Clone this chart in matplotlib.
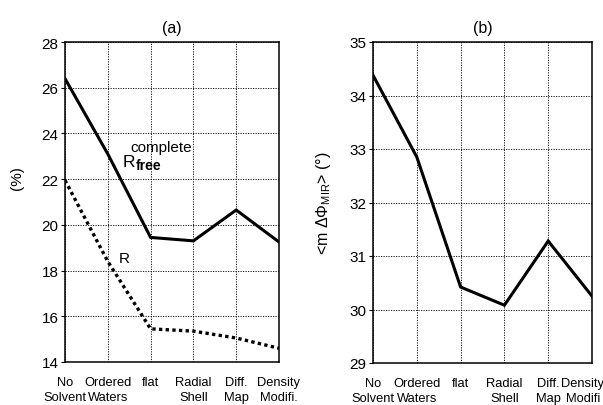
import matplotlib
matplotlib.use("Agg")
import matplotlib.pyplot as plt
from matplotlib.transforms import ScaledTranslation

plt.rcParams['font.family'] = ['Liberation Sans', 'DejaVu Sans']
plt.rcParams['mathtext.default'] = 'regular'

methods = ["No\nSolvent", "Ordered\nWaters", "flat", "Radial\nShell", "Diff.\nMap", "Density\nModifi."]
methods_b = ["No\nSolvent", "Ordered\nWaters", "flat", "Radial\nShell", "Diff.\nMap", "Density\nModifi"]
r_free = [26.4, 23.1, 19.45, 19.3, 20.65, 19.25]
r_work = [21.95, 18.4, 15.45, 15.35, 15.05, 14.6]
phase_err = [34.38, 32.85, 30.42, 30.08, 31.28, 30.25]

fig = plt.figure(figsize=(6.03, 4.06), dpi=100)
ax1 = fig.add_axes([65/603, 1 - 363/406, 214/603, 320/406])
ax2 = fig.add_axes([373/603, 1 - 364/406, 219/603, 321/406])

x = list(range(len(methods)))

def style(ax, labels):
    ax.set_xlim(0, len(labels) - 1)
    ax.set_xticks(x)
    ax.set_xticklabels(labels, fontsize=9.3, linespacing=1.3)
    ax.tick_params(axis='x', length=0, pad=10)
    ax.tick_params(axis='y', direction='out', length=3, width=0.8, pad=1.5,
                   labelsize=11)
    ax.grid(True, linestyle=(0, (1.5, 1.5)), color='black', linewidth=0.6)
    for s in ax.spines.values():
        s.set_linewidth(1.1)
        s.set_color('black')

# panel (a): R-factors
ax1.plot(x, r_free, color='black', linewidth=2.2, solid_joinstyle='miter')
ax1.plot(x, r_work, color='black', linewidth=2.4, linestyle=(0, (1.0, 1.0)))
ax1.set_ylim(14, 28)
ax1.set_yticks(range(14, 29, 2))
style(ax1, methods)
ax1.set_ylabel('(%)', fontsize=11)
ax1.yaxis.set_label_coords(-0.19, 0.578)
ax1.set_title('(a)', fontsize=11.5, pad=7)
ax1.text(1.355, 22.575, 'R', fontsize=12.5)
ax1.text(1.645, 22.44, 'free', fontsize=10, fontweight='bold')
ax1.text(1.519, 23.23, 'complete', fontsize=11)
ax1.text(1.26, 18.375, 'R', fontsize=11)

# panel (b): mean phase error
ax2.plot(x, phase_err, color='black', linewidth=2.2, solid_joinstyle='miter')
ax2.set_ylim(29, 35)
ax2.set_yticks(range(29, 36))
style(ax2, methods_b)
ax2.set_ylabel(r'<m $\Delta\Phi_{MIR}$> (°)', fontsize=11.5)
ax2.yaxis.set_label_coords(-0.183, 0.5)
ax2.set_title('(b)', fontsize=11.5, pad=7)

# keep the last category label inside the figure edge
last = ax2.get_xticklabels()[-1]
last.set_transform(last.get_transform() + ScaledTranslation(-9/100, 0, fig.dpi_scale_trans))

fig.savefig('out.png', dpi=100)
